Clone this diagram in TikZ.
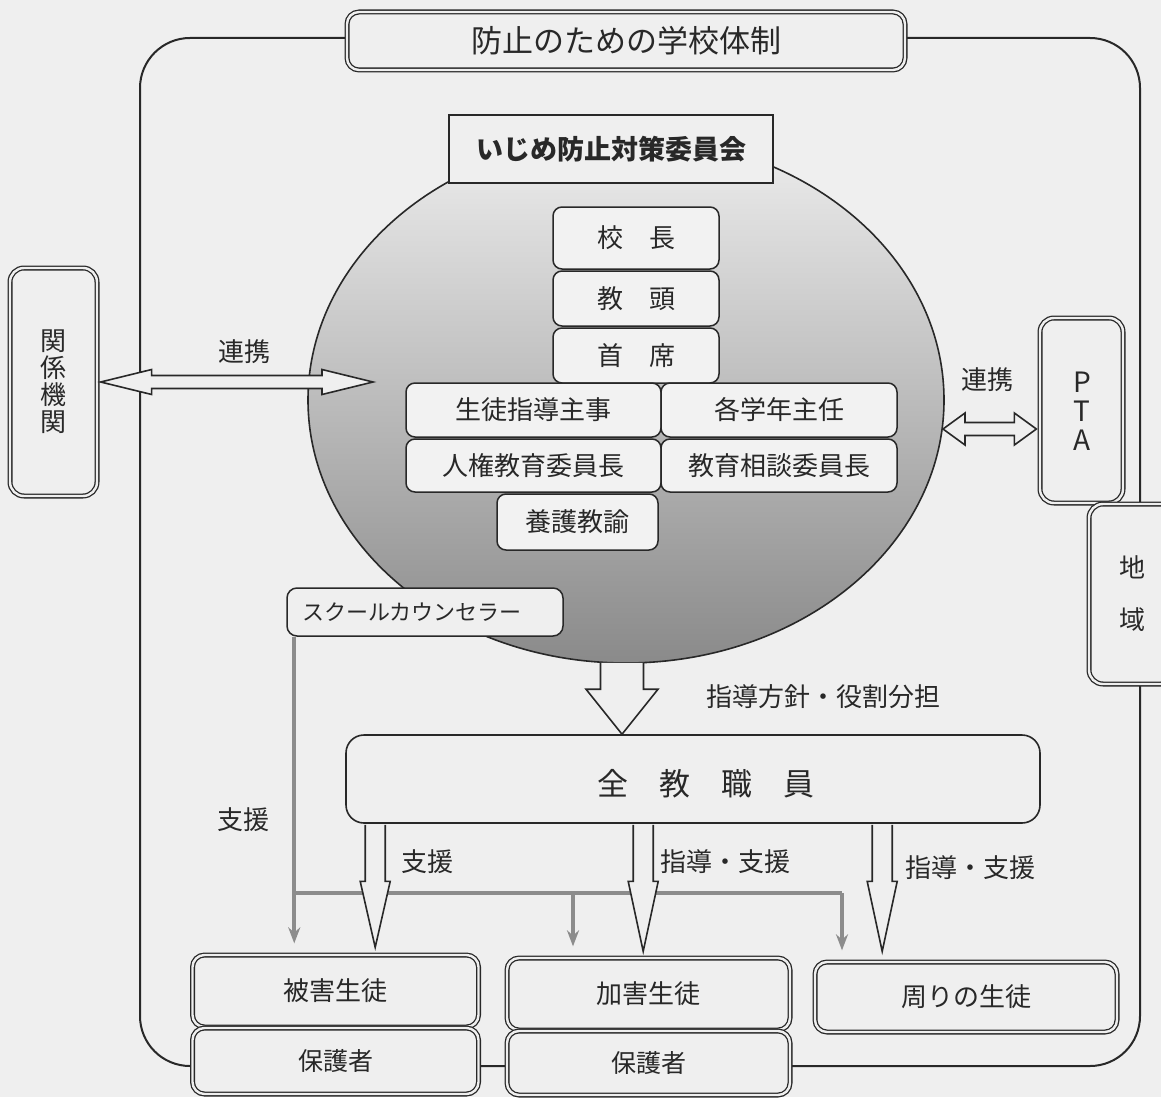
\documentclass[tikz,border=0pt]{standalone}
\usepackage{fontspec}
\setmainfont{Noto Sans CJK JP}
\usetikzlibrary{shapes.geometric,arrows.meta,calc}
\definecolor{bg}{HTML}{EFEFEF}
\definecolor{ink}{HTML}{282828}
\definecolor{gline}{HTML}{8C8C8C}
\definecolor{boxfill}{HTML}{F2F2F2}
\definecolor{shtop}{HTML}{EDEDED}
\definecolor{shmid}{HTML}{D2D2D2}
\definecolor{shbot}{HTML}{8A8A8A}
\newcommand\fsz[2]{\fontsize{#1}{#2}\selectfont}
% horizontal hollow double arrow: start, end, shaft half, head half, head length
\newcommand\hdarrow[5]{%
  \draw[hollow] (#1) -- ($(#1)+(#5,-#4)$) -- ($(#1)+(#5,-#3)$) -- ($(#2)+(-#5,-#3)$)
    -- ($(#2)+(-#5,-#4)$) -- (#2) -- ($(#2)+(-#5,#4)$) -- ($(#2)+(-#5,#3)$)
    -- ($(#1)+(#5,#3)$) -- ($(#1)+(#5,#4)$) -- cycle;}
% vertical hollow down arrow: top, tip, shaft half, head half, head length
\newcommand\vdarrow[5]{%
  \draw[hollow] ($(#1)+(-#3,0)$) -- ($(#2)+(-#3,-#5)$) -- ($(#2)+(-#4,-#5)$) -- (#2)
    -- ($(#2)+(#4,-#5)$) -- ($(#2)+(#3,-#5)$) -- ($(#1)+(#3,0)$);}
\begin{document}
\begin{tikzpicture}[x=1pt,y=-1pt,
  every node/.style={text=ink, inner sep=0pt},
  dbox/.style={draw=ink, line width=1.3pt, double=bg, double distance=2.4pt, rounded corners=12pt, fill=bg},
  ibox/.style={draw=ink, line width=1.5pt, fill=boxfill, rounded corners=9pt, font=\fsz{26}{30}},
  hollow/.style={draw=ink, line width=1.6pt, fill=bg, line join=miter},
  garrow/.style={draw=gline, line width=4pt, -{Stealth[length=16pt,width=12pt]}, shorten >=11pt},
  gl/.style={draw=gline, line width=4pt},
  lbl/.style={font=\fsz{26}{30}},
  vtext/.style={align=center, font=\fsz{26}{27}}]
\useasboundingbox (0,0) rectangle (1161,1097);
\fill[bg] (0,0) rectangle (1161,1097);

% outer frame
\node[draw=ink, line width=2pt, rounded corners=50pt, minimum width=1000pt, minimum height=1028pt] (frame) at (640,552) {};

% title
\node[dbox, minimum width=558pt, minimum height=58pt, font=\fsz{31}{34}] (title) at (626,41) {防止のための学校体制};

% committee ellipse
\node[ellipse, draw=ink, line width=1.6pt, top color=shtop, middle color=shmid, bottom color=shbot,
  minimum width=636pt, minimum height=526pt] (circ) at (626,400) {};
\node[draw=ink, line width=1.8pt, fill=bg, minimum width=324pt, minimum height=68pt, font=\fsz{27}{30}\bfseries] (comm) at (611,149) {いじめ防止対策委員会};

% members
\node[ibox, minimum width=166pt, minimum height=62pt] (kocho) at (636,238) {校　長};
\node[ibox, minimum width=166pt, minimum height=55pt] (kyoto) at (636,298.5) {教　頭};
\node[ibox, minimum width=166pt, minimum height=55pt] (shuseki) at (636,355.5) {首　席};
\node[ibox, minimum width=255pt, minimum height=54pt] (seito) at (533.5,410) {生徒指導主事};
\node[ibox, minimum width=236pt, minimum height=54pt] (gakunen) at (779,410) {各学年主任};
\node[ibox, minimum width=255pt, minimum height=53pt] (jinken) at (533.5,465.5) {人権教育委員長};
\node[ibox, minimum width=236pt, minimum height=53pt] (soudan) at (779,465.5) {教育相談委員長};
\node[ibox, minimum width=161pt, minimum height=56pt] (yogo) at (577.5,522) {養護教諭};

% school counselor
\node[draw=ink, line width=1.5pt, fill=bg, rounded corners=10pt, minimum width=276pt, minimum height=48pt,
  text width=246pt, align=left, font=\fsz{22}{26}] (sc) at (425,612) {スクールカウンセラー};

% side boxes
\node[dbox, rounded corners=14pt, minimum width=87pt, minimum height=228pt, vtext] (rel) at (53.5,382) {関\\係\\機\\関};
\node[dbox, rounded corners=14pt, minimum width=83pt, minimum height=185pt] (pta) at (1081.5,410.5) {};
\node[font=\fsz{28}{28}] (ptaP) at (1082,382) {P};
\node[font=\fsz{28}{28}] (ptaT) at (1082,411) {T};
\node[font=\fsz{28}{28}] (ptaA) at (1082,440) {A};
\node[dbox, rounded corners=14pt, minimum width=86pt, minimum height=180pt, align=center, font=\fsz{26}{52}] (chiiki) at (1132,594) {地\\域};

% all staff
\node[draw=ink, line width=1.6pt, fill=bg, rounded corners=18pt, minimum width=694pt, minimum height=88pt] (staff) at (693,779) {};
\node[font=\fsz{31}{34}] (stafftext) at (706,784) {全　教　職　員};

% bottom boxes
\node[dbox, minimum width=286pt, minimum height=72pt, font=\fsz{26}{30}] (victim) at (335.5,991) {被害生徒};
\node[dbox, minimum width=286pt, minimum height=66pt, font=\fsz{25}{30}] (vparent) at (335.5,1061) {保護者};
\node[dbox, minimum width=283pt, minimum height=72pt, font=\fsz{26}{30}] (offender) at (648.5,994) {加害生徒};
\node[dbox, minimum width=283pt, minimum height=64pt, font=\fsz{25}{30}] (oparent) at (648.5,1063) {保護者};
\node[dbox, minimum width=302pt, minimum height=70pt, font=\fsz{26}{30}] (others) at (966,997) {周りの生徒};

% gray support lines
\coordinate (g0) at ($(sc.south west)+(8,0)$);
\coordinate (gh) at (295,893);
\coordinate (gm) at (573,893);
\coordinate (gr) at (842,893);
\draw[garrow] (g0) -- (g0 |- victim.north);
\draw[gl] (gh) -- (gr);
\draw[garrow] (gm) -- (gm |- offender.north);
\draw[garrow, line join=miter] (gr) -- (gr |- others.north);

% liaison arrows
\coordinate (la0) at ($(rel.east)+(3,0)$);
\coordinate (la1) at (373,382);
\hdarrow{la0}{la1}{6.5}{12.5}{51}
\coordinate (ra0) at (943,429);
\coordinate (ra1) at ($(pta.west |- ra0)+(-3,0)$);
\hdarrow{ra0}{ra1}{6.5}{16}{22}

% big arrow
\coordinate (ba0) at ($(circ.south)+(-4,-1)$);
\coordinate (ba1) at (ba0 |- staff.north);
\vdarrow{ba0}{ba1}{21.5}{36}{45}

% narrow arrows
\coordinate (a1) at ($(staff.south west)+(30,1)$);
\coordinate (b1) at ($(a1 |- victim.north)+(0,-7)$);
\vdarrow{a1}{b1}{10}{15}{66}
\coordinate (a2) at ($(staff.south west)+(298,1)$);
\coordinate (b2) at ($(a2 |- offender.north)+(0,-6)$);
\vdarrow{a2}{b2}{10}{15}{70}
\coordinate (a3) at ($(staff.south west)+(537,1)$);
\coordinate (b3) at ($(a3 |- others.north)+(0,-10)$);
\vdarrow{a3}{b3}{10}{15}{70}

% labels
\node[lbl] (l1) at (244,352) {連携};
\node[lbl] (l2) at (987,380) {連携};
\node[lbl] (l3) at (823,697) {指導方針・役割分担};
\node[lbl] (l4) at (243,820) {支援};
\node[lbl] (l5) at (427,862) {支援};
\node[lbl] (l6) at (725,862) {指導・支援};
\node[lbl] (l7) at (970,868) {指導・支援};
\end{tikzpicture}
\end{document}
